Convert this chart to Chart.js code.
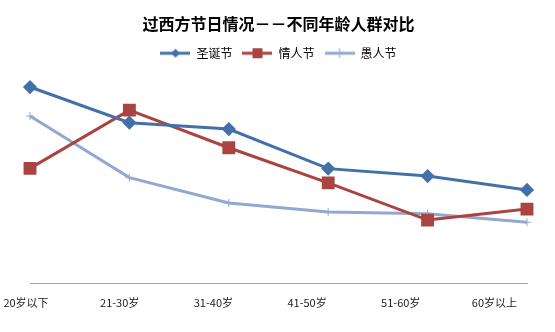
<!DOCTYPE html>
<html>
<head>
<meta charset="utf-8">
<script src="https://cdn.jsdelivr.net/npm/chart.js@4/dist/chart.umd.min.js"></script>
<style>
  html, body { margin: 0; padding: 0; background: #fff; }
  #box { width: 555px; height: 332px; }
</style>
</head>
<body>
<div id="box"><canvas id="grafico"></canvas></div>
<script>
const categorias = ['20岁以下', '21-30岁', '31-40岁', '41-50岁', '51-60岁', '60岁以上'];
const navidad = [89.1, 72.9, 70.0, 52.0, 48.6, 42.3];
const sanValentin = [52.1, 78.6, 61.5, 45.5, 28.6, 33.6];
const inocentes = [75.9, 47.9, 36.4, 32.3, 31.5, 27.6];

const COLORES = {
  azul: '#4470A9',
  rojo: '#AA4441',
  celeste: '#93A8D0'
};

const FUENTE = '"Noto Sans CJK SC", "Noto Sans", sans-serif';

// icono de leyenda: línea con su marcador
function iconoLeyenda(color, tipo) {
  const c = document.createElement('canvas');
  c.width = 30; c.height = 12;
  const g = c.getContext('2d');
  g.strokeStyle = color;
  g.lineWidth = 3;
  g.beginPath(); g.moveTo(0, 6); g.lineTo(30, 6); g.stroke();
  g.fillStyle = color;
  if (tipo === 'rombo') {
    g.beginPath(); g.moveTo(15, 1.5); g.lineTo(19.5, 6); g.lineTo(15, 10.5); g.lineTo(10.5, 6); g.closePath(); g.fill();
  } else if (tipo === 'cuadro') {
    g.fillRect(10, 1, 10, 10);
  } else {
    g.lineWidth = 1;
    g.beginPath(); g.moveTo(15, 1); g.lineTo(15, 11); g.stroke();
  }
  return c;
}

// etiquetas del eje x, algo comprimidas hacia la izquierda
const etiquetasX = {
  id: 'etiquetasX',
  afterDraw(chart) {
    const xs = chart.scales.x;
    const ctx = chart.ctx;
    ctx.save();
    ctx.font = '11px ' + FUENTE;
    ctx.fillStyle = '#222';
    ctx.textAlign = 'center';
    ctx.textBaseline = 'middle';
    categorias.forEach((txt, i) => {
      const px = xs.getPixelForTick(i);
      const x = xs.left - 4 + (px - xs.left) * 0.9425;
      ctx.fillText(txt, Math.max(x, ctx.measureText(txt).width / 2 + 3), xs.top + 20);
    });
    ctx.restore();
  }
};

const data = {
  labels: categorias,
  datasets: [
    {
      label: '圣诞节',
      data: navidad,
      borderColor: COLORES.azul,
      backgroundColor: COLORES.azul,
      borderWidth: 3,
      pointStyle: 'rectRot',
      pointRadius: 5,
      legendIcon: iconoLeyenda(COLORES.azul, 'rombo')
    },
    {
      label: '情人节',
      data: sanValentin,
      borderColor: COLORES.rojo,
      backgroundColor: COLORES.rojo,
      borderWidth: 3,
      pointStyle: 'rect',
      pointRadius: 7,
      legendIcon: iconoLeyenda(COLORES.rojo, 'cuadro')
    },
    {
      label: '愚人节',
      data: inocentes,
      borderColor: COLORES.celeste,
      backgroundColor: COLORES.celeste,
      borderWidth: 3,
      pointStyle: 'cross',
      pointRadius: 4,
      pointBorderWidth: 1,
      legendIcon: iconoLeyenda(COLORES.celeste, 'cruz')
    }
  ]
};

const config = {
  type: 'line',
  data: data,
  options: {
    responsive: true,
    maintainAspectRatio: false,
    animation: false,
    layout: {
      padding: { left: 30, right: 28, top: 0, bottom: 41 }
    },
    plugins: {
      title: {
        display: true,
        text: '过西方节日情况－－不同年龄人群对比',
        color: '#000',
        font: { family: FUENTE, size: 16, weight: 'bold' },
        padding: { top: 14, bottom: 4 }
      },
      legend: {
        position: 'top',
        labels: {
          usePointStyle: true,
          pointStyleWidth: 30,
          boxHeight: 12,
          padding: 10,
          color: '#222',
          font: { family: FUENTE, size: 12 },
          generateLabels(chart) {
            return chart.data.datasets.map((ds, i) => ({
              text: ds.label,
              pointStyle: ds.legendIcon,
              fillStyle: ds.borderColor,
              strokeStyle: ds.borderColor,
              lineWidth: 0,
              datasetIndex: i,
              hidden: false
            }));
          }
        }
      },
      tooltip: { enabled: false }
    },
    scales: {
      y: {
        display: false,
        min: 0,
        max: 97.2
      },
      x: {
        grid: { display: false },
        border: { color: '#A6A6A6', width: 1 },
        ticks: { display: false }
      }
    }
  },
  plugins: [etiquetasX]
};

const ctx = document.getElementById('grafico').getContext('2d');
new Chart(ctx, config);
</script>
</body>
</html>
